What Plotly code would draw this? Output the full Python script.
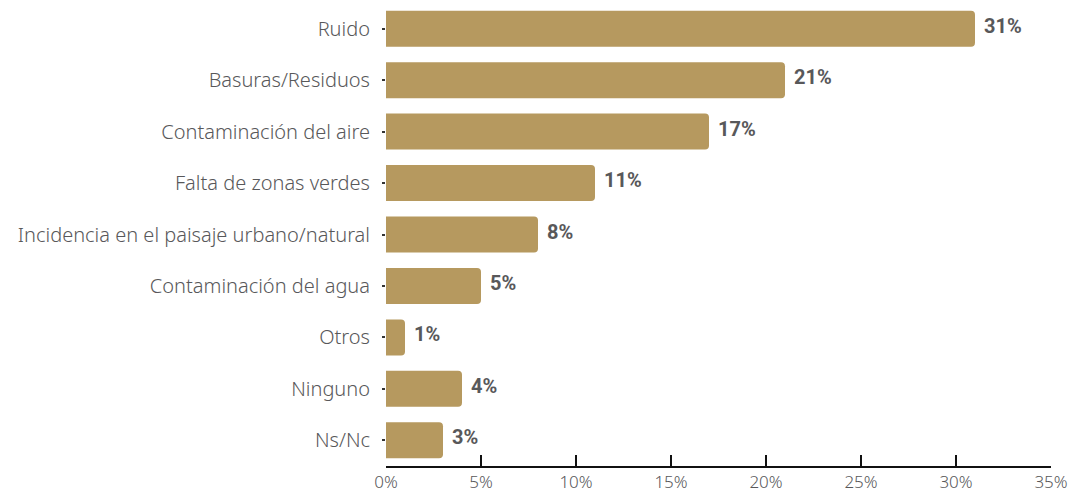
import plotly.graph_objects as go

categories = [
    "Ruido",
    "Basuras/Residuos",
    "Contaminación del aire",
    "Falta de zonas verdes",
    "Incidencia en el paisaje urbano/natural",
    "Contaminación del agua",
    "Otros",
    "Ninguno",
    "Ns/Nc",
]
values = [31, 21, 17, 11, 8, 5, 1, 4, 3]
tick_values = [0, 5, 10, 15, 20, 25, 30, 35]
tick_labels = ["0%", "5%", "10%", "15%", "20%", "25%", "30%", "35%"]

bar_color = "#B6995F"
text_color = "#58585A"

fig = go.Figure(
    go.Bar(
        x=values,
        y=categories,
        orientation="h",
        marker=dict(color=bar_color, line=dict(width=0)),
        hoverinfo="skip",
    )
)

for cat, val in zip(categories, values):
    fig.add_annotation(
        x=val, y=cat, text=f"<b>{val}%</b>",
        xanchor="left", yanchor="middle",
        xshift=7, yshift=3, showarrow=False,
        font=dict(family="Roboto", size=20, color=text_color, weight=900),
    )

fig.update_layout(
    width=1073, height=493,
    margin=dict(l=386, r=22, t=3, b=27),
    paper_bgcolor="white", plot_bgcolor="white",
    bargap=0.3,
    barcornerradius=4,
    showlegend=False,
    xaxis=dict(
        range=[0, 35],
        tickvals=tick_values, ticktext=tick_labels,
        automargin=False,
        showgrid=False, zeroline=False,
        showline=True, linecolor="#111111", linewidth=2,
        ticks="inside", ticklen=11, tickwidth=2, tickcolor="#111111",
        tickfont=dict(family="Noto Sans", size=17, color=text_color, weight=300),
        ticklabelstandoff=0,
    ),
    yaxis=dict(
        autorange="reversed",
        automargin=False,
        showgrid=False, zeroline=False, showline=False,
        ticks="outside", ticklen=3, tickwidth=2, tickcolor="#333333",
        tickfont=dict(family="Noto Sans", size=20, color=text_color, weight=300),
        ticklabelstandoff=8,
    ),
)

fig.write_html("out.html")
